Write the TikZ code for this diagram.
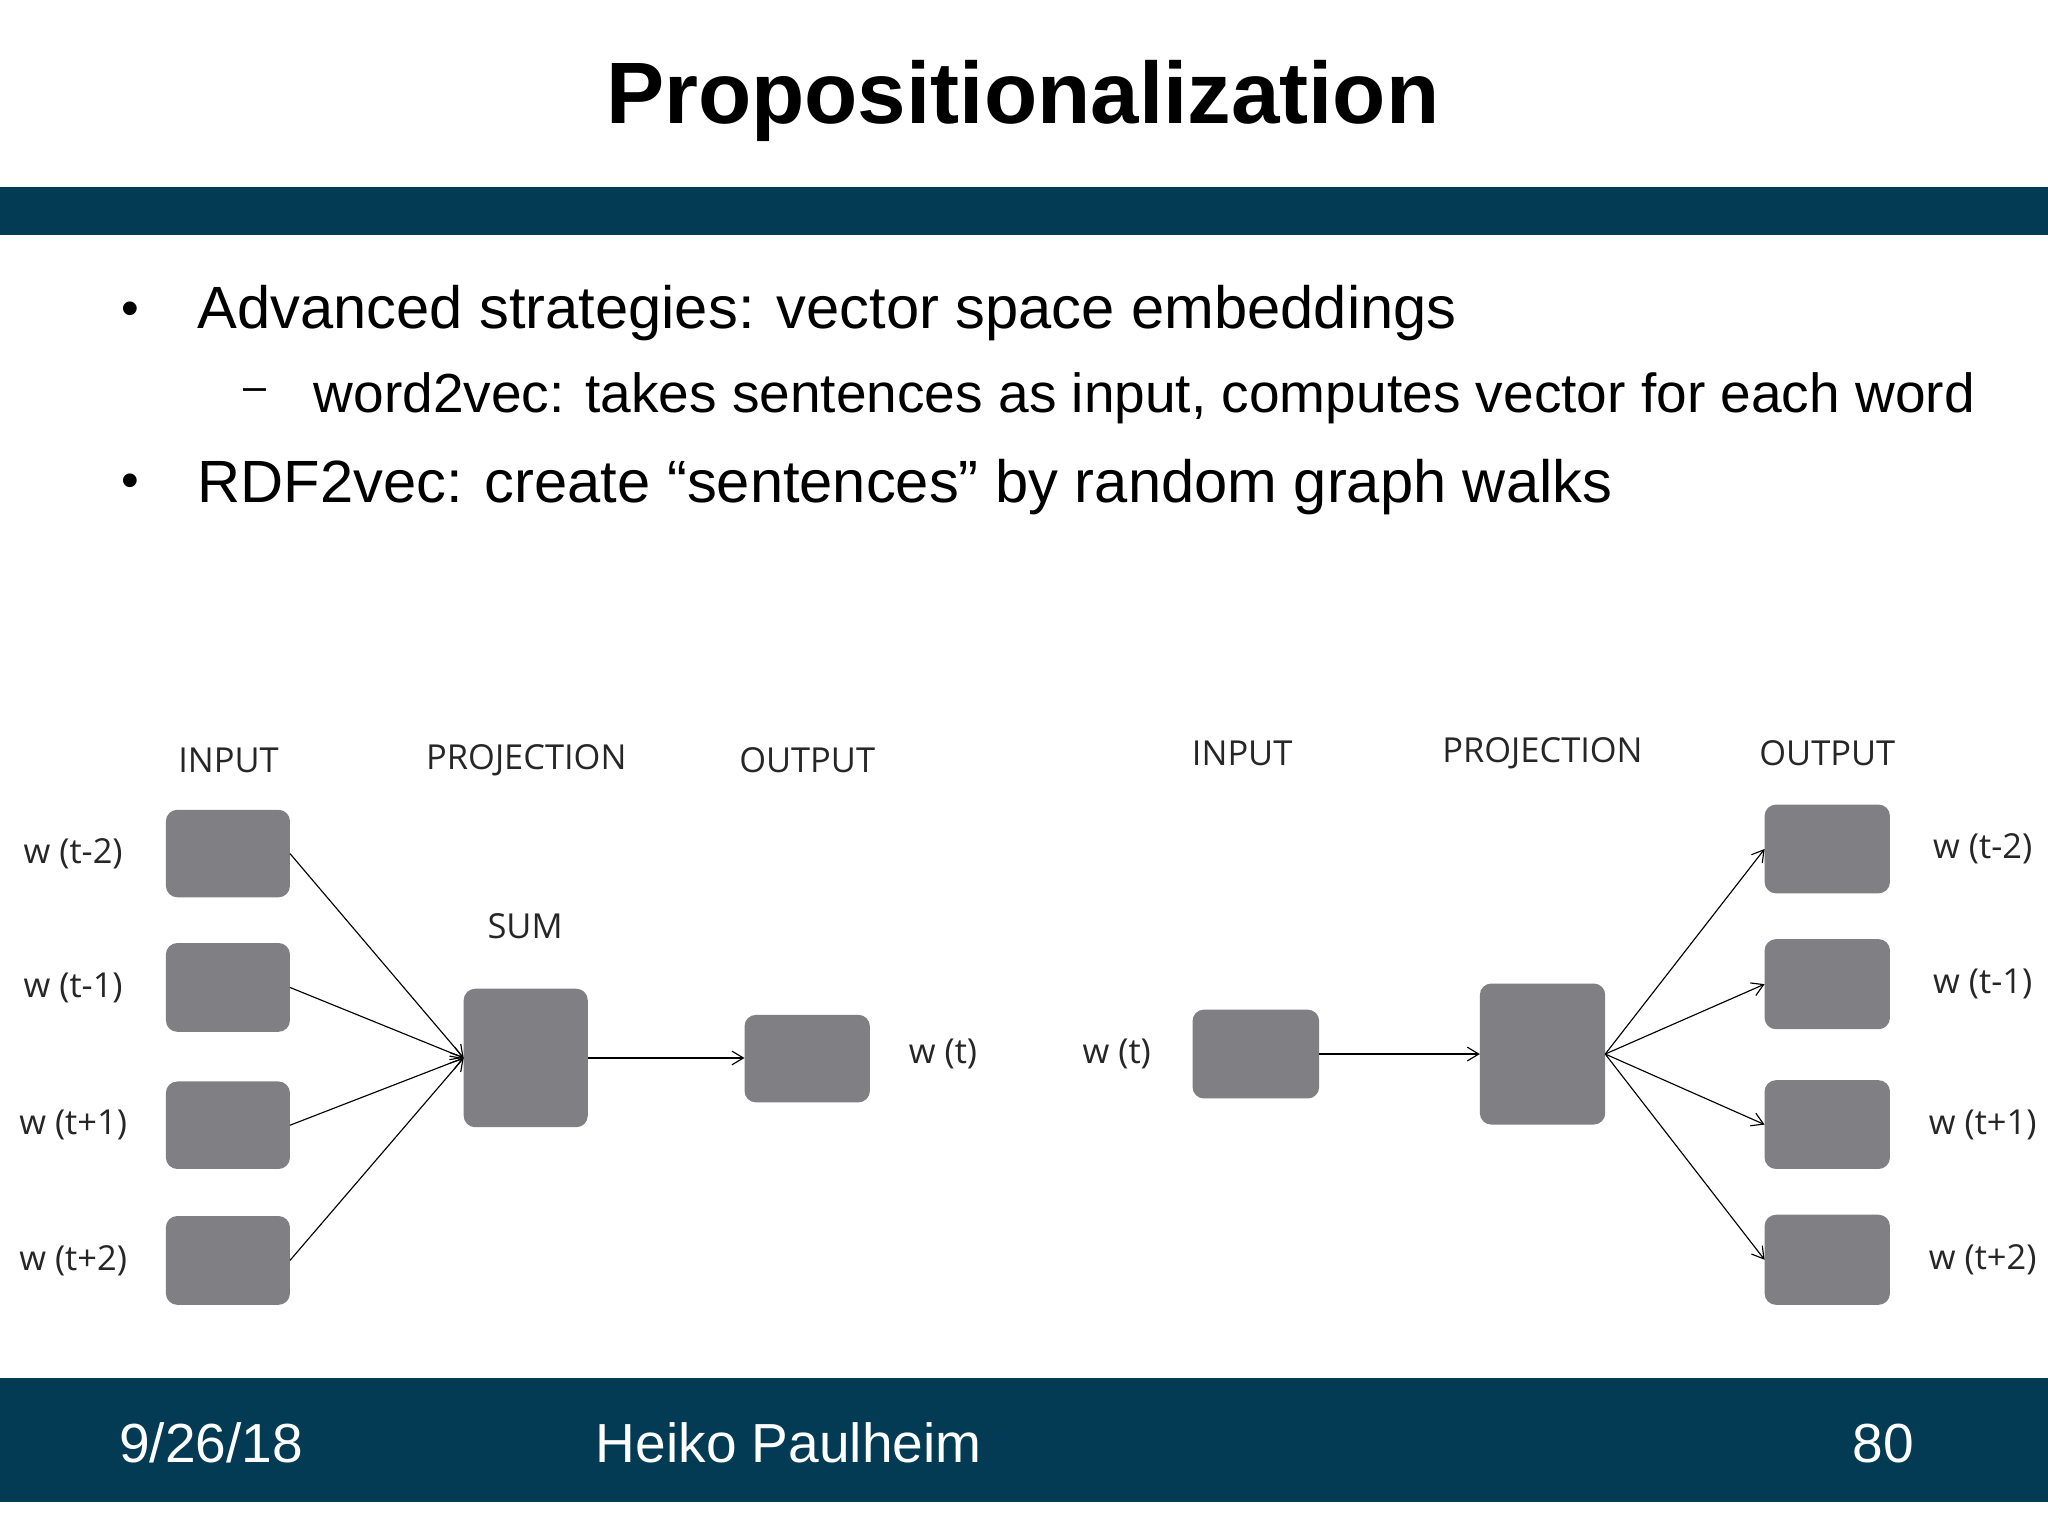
\documentclass[tikz,border=0pt]{standalone}
\usepackage{fontspec}
\setmainfont{Liberation Sans}
\newfontfamily\diag{Open Sans}
\usetikzlibrary{arrows.meta}
\definecolor{band}{HTML}{023B53}
\definecolor{boxg}{HTML}{807F83}
\tikzset{
  bx/.style={fill=boxg,draw=none,rounded corners=5pt},
  lab/.style={font=\diag\fontsize{15}{18}\selectfont,text=black!85},
  arr/.style={-{Straight Barb[length=5pt,width=6pt]},line width=0.5pt},
  foot/.style={text=white,font=\fontsize{24}{28}\selectfont,anchor=west},
  btxt/.style={anchor=west,font=\fontsize{26}{30}\selectfont},
}
\begin{document}
\begin{tikzpicture}[x=0.02cm,y=-0.02cm]
\useasboundingbox (0,0) rectangle (1568,1176);
\fill[white] (0,0) rectangle (1568,1176);
\fill[band] (0,143) rectangle (1568,180);
\fill[band] (0,1055) rectangle (1568,1150);
\node (title) at (783,77) {\fontsize{38}{44}\selectfont\bfseries Propositionalization};
\node (b1) at (100,240) {\fontsize{22}{26}\selectfont •};
\node[btxt] (t1) at (145,240) {Advanced strategies: vector space embeddings};
\node (b2) at (195,302) {\fontsize{18}{22}\selectfont –};
\node[btxt,font=\fontsize{24}{28}\selectfont] (t2) at (234,305) {word2vec: takes sentences as input, computes vector for each word};
\node (b3) at (100,372) {\fontsize{22}{26}\selectfont •};
\node[btxt] (t3) at (145,373) {RDF2vec: create “sentences” by random graph walks};
\node[foot] (f1) at (85,1105) {9/26/18};
\node[foot] (f2) at (450,1105) {Heiko Paulheim};
\node[foot] (f3) at (1412,1105) {80};
% left diagram
\node[lab] at (175,582) {INPUT};
\node[lab] at (403,582) {PROJECTION};
\node[lab] at (618,582) {OUTPUT};
\node[lab] at (402,709) {SUM};
\foreach \n/\ya/\yb/\t in {i1/620/687/w (t-2),i2/722/790/w (t-1),i3/828/895/w (t+1),i4/931/999/w (t+2)}{
  \path[bx] (127,\ya) rectangle (222,\yb);
  \coordinate (L\n) at (222,{(\ya+\yb)/2});
  \node[lab] at (56,{(\ya+\yb)/2}) {\t};
}
\path[bx] (355,757) rectangle (450,863);
\coordinate (pw) at (355,810);
\coordinate (pe) at (450,810);
\path[bx] (570,777) rectangle (666,844);
\coordinate (ow) at (570,810);
\node[lab] at (722,807) {w (t)};
\foreach \n in {i1,i2,i3,i4}{\draw[arr] (L\n) -- (pw);}
\draw[arr] (pe) -- (ow);
% right diagram
\node[lab] at (951,577) {INPUT};
\node[lab] at (1181,577) {PROJECTION};
\node[lab] at (1399,577) {OUTPUT};
\node[lab] at (855,807) {w (t)};
\path[bx] (913,773) rectangle (1010,841);
\coordinate (rie) at (1010,807);
\path[bx] (1133,753) rectangle (1229,861);
\coordinate (rpw) at (1133,807);
\coordinate (rpe) at (1229,807);
\draw[arr] (rie) -- (rpw);
\foreach \n/\ya/\yb/\t in {o1/616/684/w (t-2),o2/719/788/w (t-1),o3/827/895/w (t+1),o4/930/999/w (t+2)}{
  \path[bx] (1351,\ya) rectangle (1447,\yb);
  \coordinate (R\n) at (1351,{(\ya+\yb)/2});
  \node[lab] at (1518,{(\ya+\yb)/2}) {\t};
  \draw[arr] (rpe) -- (R\n);
}
\end{tikzpicture}
\end{document}
